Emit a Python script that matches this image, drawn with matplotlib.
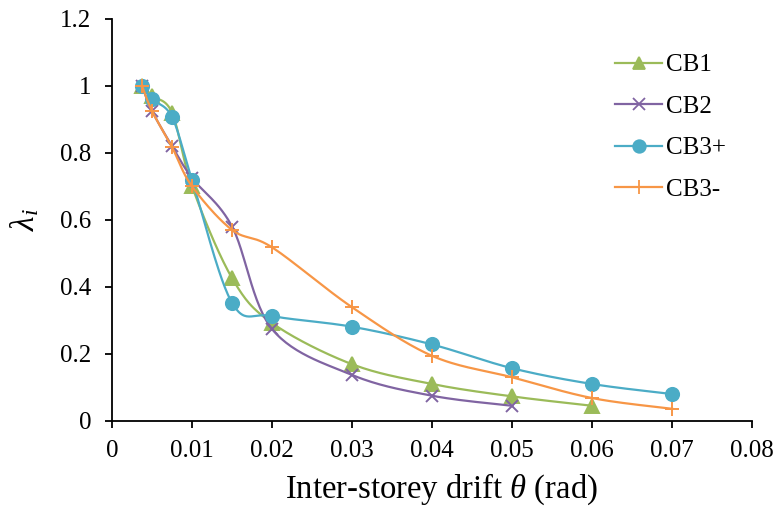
import numpy as np
import matplotlib.pyplot as plt

plt.rcParams['font.family'] = ['Liberation Serif', 'DejaVu Serif']
plt.rcParams['mathtext.fontset'] = 'custom'
plt.rcParams['mathtext.rm'] = 'Liberation Serif'
plt.rcParams['mathtext.it'] = 'Liberation Serif:italic'

drift_cb1 = [0.00375, 0.005, 0.0075, 0.01, 0.015, 0.02, 0.03, 0.04, 0.05, 0.06]
lam_cb1 = [1.0, 0.97, 0.92, 0.70, 0.426, 0.292, 0.169, 0.11, 0.073, 0.045]

drift_cb2 = [0.00375, 0.005, 0.0075, 0.01, 0.015, 0.02, 0.03, 0.04, 0.05]
lam_cb2 = [1.0, 0.925, 0.82, 0.725, 0.58, 0.274, 0.137, 0.075, 0.045]

drift_cb3p = [0.00375, 0.005, 0.0075, 0.01, 0.015, 0.02, 0.03, 0.04, 0.05, 0.06, 0.07]
lam_cb3p = [1.0, 0.96, 0.907, 0.719, 0.352, 0.313, 0.281, 0.228, 0.157, 0.110, 0.080]

drift_cb3m = [0.00375, 0.005, 0.0075, 0.01, 0.015, 0.02, 0.03, 0.04, 0.05, 0.06, 0.07]
lam_cb3m = [1.0, 0.925, 0.817, 0.70, 0.57, 0.518, 0.339, 0.194, 0.130, 0.068, 0.036]

x_ticks = [0, 0.01, 0.02, 0.03, 0.04, 0.05, 0.06, 0.07, 0.08]
x_tick_labels = ['0', '0.01', '0.02', '0.03', '0.04', '0.05', '0.06', '0.07', '0.08']
y_ticks = [0, 0.2, 0.4, 0.6, 0.8, 1.0, 1.2]
y_tick_labels = ['0', '0.2', '0.4', '0.6', '0.8', '1', '1.2']


def smooth(x, y, n=30):
    # Excel-style smoothed line: Catmull-Rom bezier segments
    p = np.column_stack([x, y]).astype(float)
    out = [p[0]]
    for i in range(len(p) - 1):
        p0 = p[i - 1] if i > 0 else p[i]
        p1, p2 = p[i], p[i + 1]
        p3 = p[i + 2] if i + 2 < len(p) else p[i + 1]
        c1 = p1 + (p2 - p0) / 6
        c2 = p2 - (p3 - p1) / 6
        t = np.linspace(0, 1, n)[1:, None]
        seg = (1 - t) ** 3 * p1 + 3 * (1 - t) ** 2 * t * c1 + 3 * (1 - t) * t ** 2 * c2 + t ** 3 * p2
        out.extend(seg)
    out = np.array(out)
    return out[:, 0], out[:, 1]


series = [
    ('CB1', drift_cb1, lam_cb1, '#9BBB59', '^', 9.5),
    ('CB2', drift_cb2, lam_cb2, '#8064A2', 'x', 8.5),
    ('CB3+', drift_cb3p, lam_cb3p, '#4BACC6', 'o', 9.5),
    ('CB3-', drift_cb3m, lam_cb3m, '#F79646', '+', 10),
]

fig = plt.figure(figsize=(7.78, 5.12), dpi=100)
ax = fig.add_axes([0.144, 0.178, 0.823, 0.785])

for name, x, y, c, m, ms in series:
    sx, sy = smooth(x, y)
    ax.plot(sx, sy, color=c, lw=1.6)
    ax.plot(x, y, linestyle='none', marker=m, color=c, ms=ms, mew=1.4)
    ax.plot([], [], color=c, lw=1.6, marker=m, ms=ms * 0.95, mew=1.3, label=name)

ax.set_xlim(0, 0.08)
ax.set_ylim(0, 1.2)
ax.set_xticks(x_ticks)
ax.set_xticklabels(x_tick_labels, fontfamily='Liberation Serif')
ax.set_yticks(y_ticks)
ax.set_yticklabels(y_tick_labels, fontfamily='Liberation Serif')
ax.tick_params(labelsize=18, direction='out', length=5, width=1.3, colors='black')
ax.tick_params(axis='y', pad=10)
ax.tick_params(axis='x', pad=8.5)
ax.spines[['top', 'right']].set_visible(False)
ax.spines[['left', 'bottom']].set_linewidth(1.3)

ax.set_xlabel(r'Inter-storey drift $\mathit{\theta}$ (rad)', fontsize=23.5)
ax.xaxis.set_label_coords(0.514, -0.1915)
ax.xaxis.label.set_va('baseline')
ax.set_ylabel(r'$\mathit{\lambda_i}$', fontsize=24)
ax.yaxis.set_label_coords(-0.136, 0.5)
ax.yaxis.label.set_va('center')

ax.legend(loc='upper left', bbox_to_anchor=(0.7905, 0.895), bbox_transform=fig.transFigure,
          frameon=False, fontsize=18, borderpad=0, borderaxespad=0,
          handlelength=1.88, labelspacing=0.76, handletextpad=0.15)

plt.savefig('out.png', dpi=100)
